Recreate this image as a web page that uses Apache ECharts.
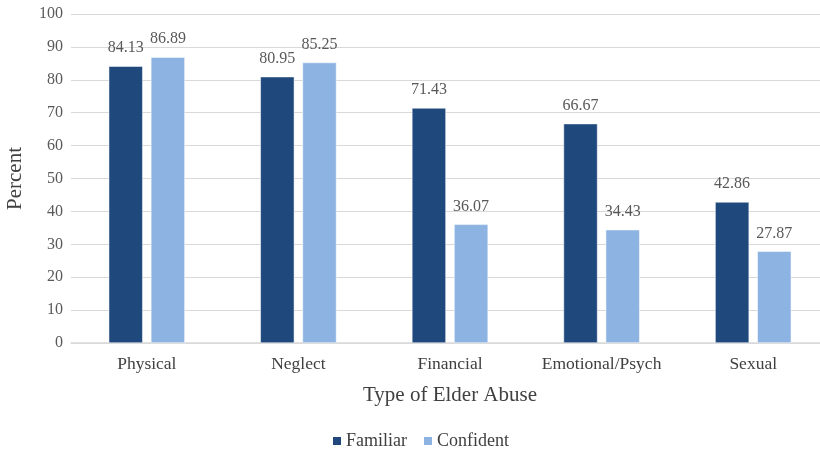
<!DOCTYPE html>
<html>
<head>
<meta charset="utf-8">
<script src="https://cdn.jsdelivr.net/npm/echarts@6/dist/echarts.min.js"></script>
<style>
  html, body { margin: 0; padding: 0; background: #fff; }
  #chart { width: 820px; height: 450px; }
</style>
</head>
<body>
<div id="chart"></div>
<script>
var categories = ['Physical', 'Neglect', 'Financial', 'Emotional/Psych', 'Sexual'];
var familiar = [84.13, 80.95, 71.43, 66.67, 42.86];
var confident = [86.89, 85.25, 36.07, 34.43, 27.87];

var font = '"Liberation Serif", "DejaVu Serif", serif';
var chart = echarts.init(document.getElementById('chart'));

function labelFmt(p) {
  return p.value.toFixed(2);
}

chart.setOption({
  backgroundColor: '#fff',
  animation: false,
  textStyle: { fontFamily: font },
  grid: {
    left: 71,
    right: -9,
    top: 14,
    bottom: 107,
    outerBoundsMode: 'none'
  },
  legend: {
    top: 427,
    left: 326,
    itemWidth: 10,
    itemHeight: 10,
    itemGap: 15,
    icon: 'rect',
    textStyle: { fontFamily: font, fontSize: 18, color: '#404040', padding: [0, 0, 0, -1] },
    data: ['Familiar', 'Confident']
  },
  xAxis: {
    type: 'category',
    data: categories,
    name: 'Type of Elder Abuse',
    nameLocation: 'middle',
    nameGap: 42,
    nameTextStyle: { fontFamily: font, fontSize: 21, color: '#404040' },
    axisLine: { lineStyle: { color: '#d9d9d9', width: 1.5 } },
    axisTick: { show: false },
    axisLabel: { interval: 0, fontFamily: font, fontSize: 17.5, color: '#404040', margin: 12 }
  },
  yAxis: {
    type: 'value',
    min: 0,
    max: 100,
    interval: 10,
    name: 'Percent',
    nameLocation: 'middle',
    nameGap: 45,
    nameTextStyle: { fontFamily: font, fontSize: 21, color: '#404040' },
    axisLine: { show: false },
    axisTick: { show: false },
    splitLine: { lineStyle: { color: '#d9d9d9' } },
    axisLabel: { fontFamily: font, fontSize: 16, color: '#595959', margin: 8 }
  },
  series: [
    {
      name: 'Familiar',
      type: 'bar',
      data: familiar,
      barWidth: 34,
      barGap: '24%',
      itemStyle: { color: '#1f497d', borderColor: '#fff', borderWidth: 0.5 },
      label: { show: true, position: 'top', distance: 10, fontFamily: font, fontSize: 16, color: '#595959', formatter: labelFmt }
    },
    {
      name: 'Confident',
      type: 'bar',
      data: confident,
      barWidth: 34,
      itemStyle: { color: '#8db3e2', borderColor: '#fff', borderWidth: 0.5 },
      label: { show: true, position: 'top', distance: 10, fontFamily: font, fontSize: 16, color: '#595959', formatter: labelFmt }
    }
  ]
});
</script>
</body>
</html>
